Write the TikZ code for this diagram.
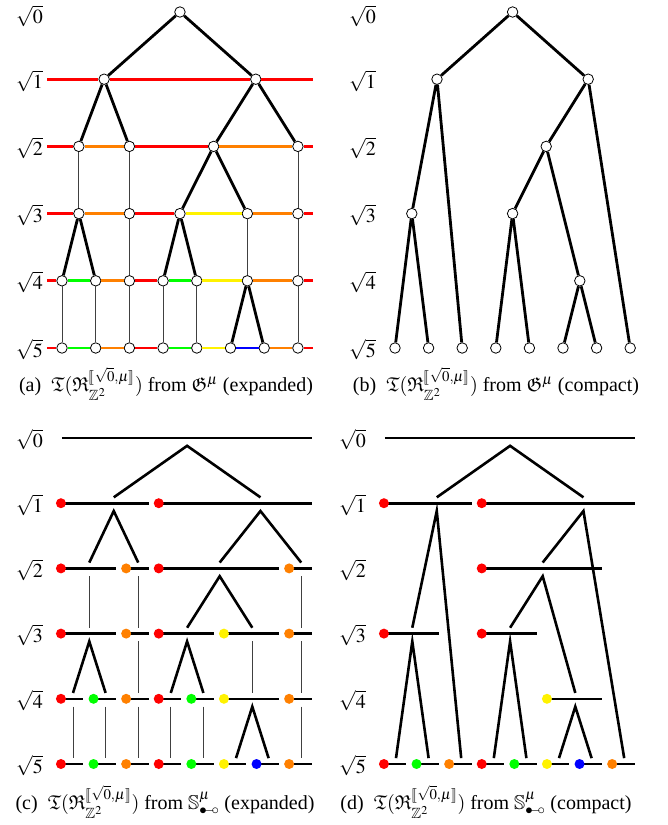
\documentclass[tikz,border=0pt]{standalone}
\usepackage{mathptmx}
\usepackage{amssymb}
\usepackage{stmaryrd}
\usepackage[no-math]{fontspec}
\setmainfont{Liberation Serif}

\newcommand{\treeof}{\mathfrak{T}(\mathfrak{R}^{\llbracket\sqrt{0},\mu\rrbracket}_{\mathbb{Z}^2})}
\newcommand{\linkdot}{{\bullet\mkern-4mu\mathord{-}\mkern-4mu\circ}}

\tikzset{
  vtx/.style={circle, draw, fill=white, line width=0.8pt, inner sep=0pt, minimum size=10.5pt},
  branch/.style={line width=2.8pt},
  chain/.style={line width=0.8pt, black!75},
  band/.style={line width=2.8pt},
  lvbar/.style={line width=2.6pt},
  limb/.style={line width=2.6pt},
  bead/.style={circle, fill=#1, inner sep=0pt, minimum size=10pt},
  lvl/.style={anchor=west, inner sep=0pt},
}

\begin{document}
\begin{tikzpicture}[x=1pt, y=-1pt, font=\fontsize{20}{24}\selectfont]
  % Canvas
  \useasboundingbox (0,0) rectangle (667,825);

  % Bar of one interval node: level, first leaf, last leaf, colour, name
  \def\seg#1#2#3#4#5{\draw[lvbar] ({#2-0.37},#1) -- ({#3+0.32},#1);
    \node[bead=#4] (#5) at ({#2-0.37},#1) {};}

  % Level labels
  \node[lvl] (la0) at (16,16) {$\sqrt{0}$};
  \node[lvl] (la1) at (16,81) {$\sqrt{1}$};
  \node[lvl] (la2) at (16,148) {$\sqrt{2}$};
  \node[lvl] (la3) at (16,215) {$\sqrt{3}$};
  \node[lvl] (la4) at (16,282) {$\sqrt{4}$};
  \node[lvl] (la5) at (16,349.5) {$\sqrt{5}$};
  \node[lvl] (lb0) at (349,16) {$\sqrt{0}$};
  \node[lvl] (lb1) at (349,81) {$\sqrt{1}$};
  \node[lvl] (lb2) at (349,148) {$\sqrt{2}$};
  \node[lvl] (lb3) at (349,215) {$\sqrt{3}$};
  \node[lvl] (lb4) at (349,282) {$\sqrt{4}$};
  \node[lvl] (lb5) at (349,349.5) {$\sqrt{5}$};
  \node[lvl] (lc0) at (16,439.5) {$\sqrt{0}$};
  \node[lvl] (lc1) at (16,505) {$\sqrt{1}$};
  \node[lvl] (lc2) at (16,570) {$\sqrt{2}$};
  \node[lvl] (lc3) at (16,635) {$\sqrt{3}$};
  \node[lvl] (lc4) at (16,700.5) {$\sqrt{4}$};
  \node[lvl] (lc5) at (16,765.5) {$\sqrt{5}$};
  \node[lvl] (ld0) at (339,439.5) {$\sqrt{0}$};
  \node[lvl] (ld1) at (339,505) {$\sqrt{1}$};
  \node[lvl] (ld2) at (339,570) {$\sqrt{2}$};
  \node[lvl] (ld3) at (339,635) {$\sqrt{3}$};
  \node[lvl] (ld4) at (339,700.5) {$\sqrt{4}$};
  \node[lvl] (ld5) at (339,765.5) {$\sqrt{5}$};

  % (a) expanded tree
  \begin{scope}[shift={(62,12)}, x=33.7pt, y=-67.2pt]
    % Vertices
    \node[vtx] (a00) at (3.5,0) {};
    \node[vtx] (a10) at (1.25,1) {}; \node[vtx] (a11) at (5.75,1) {};
    \node[vtx] (a20) at (0.5,2) {}; \node[vtx] (a21) at (2,2) {};
    \node[vtx] (a22) at (4.5,2) {}; \node[vtx] (a23) at (7,2) {};
    \node[vtx] (a30) at (0.5,3) {}; \node[vtx] (a31) at (2,3) {};
    \node[vtx] (a32) at (3.5,3) {}; \node[vtx] (a33) at (5.5,3) {};
    \node[vtx] (a34) at (7,3) {};
    \node[vtx] (a40) at (0,4) {}; \node[vtx] (a41) at (1,4) {};
    \node[vtx] (a42) at (2,4) {}; \node[vtx] (a43) at (3,4) {};
    \node[vtx] (a44) at (4,4) {}; \node[vtx] (a45) at (5.5,4) {};
    \node[vtx] (a46) at (7,4) {};
    \node[vtx] (a50) at (0,5) {}; \node[vtx] (a51) at (1,5) {};
    \node[vtx] (a52) at (2,5) {}; \node[vtx] (a53) at (3,5) {};
    \node[vtx] (a54) at (4,5) {}; \node[vtx] (a55) at (5,5) {};
    \node[vtx] (a56) at (6,5) {}; \node[vtx] (a57) at (7,5) {};

    % Ends of the level bands
    \coordinate (aw1) at (-0.445,1); \coordinate (ae1) at (7.445,1);
    \coordinate (aw2) at (-0.445,2); \coordinate (ae2) at (7.445,2);
    \coordinate (aw3) at (-0.445,3); \coordinate (ae3) at (7.445,3);
    \coordinate (aw4) at (-0.445,4); \coordinate (ae4) at (7.445,4);
    \coordinate (aw5) at (-0.445,5); \coordinate (ae5) at (7.445,5);

    % Level bands
    \draw[band, red] (aw1) -- (a10) -- (a11) -- (ae1);
    \draw[band, red] (aw2) -- (a20);
    \draw[band, orange] (a20) -- (a21);
    \draw[band, red] (a21) -- (a22);
    \draw[band, orange] (a22) -- (a23);
    \draw[band, red] (a23) -- (ae2);
    \draw[band, red] (aw3) -- (a30);
    \draw[band, orange] (a30) -- (a31);
    \draw[band, red] (a31) -- (a32);
    \draw[band, yellow] (a32) -- (a33);
    \draw[band, orange] (a33) -- (a34);
    \draw[band, red] (a34) -- (ae3);
    \draw[band, red] (aw4) -- (a40);
    \draw[band, green] (a40) -- (a41);
    \draw[band, orange] (a41) -- (a42);
    \draw[band, red] (a42) -- (a43);
    \draw[band, green] (a43) -- (a44);
    \draw[band, yellow] (a44) -- (a45);
    \draw[band, orange] (a45) -- (a46);
    \draw[band, red] (a46) -- (ae4);
    \draw[band, red] (aw5) -- (a50);
    \draw[band, green] (a50) -- (a51);
    \draw[band, orange] (a51) -- (a52);
    \draw[band, red] (a52) -- (a53);
    \draw[band, green] (a53) -- (a54);
    \draw[band, yellow] (a54) -- (a55);
    \draw[band, blue] (a55) -- (a56);
    \draw[band, orange] (a56) -- (a57);
    \draw[band, red] (a57) -- (ae5);

    % Single-child links
    \draw[chain] (a20) -- (a30); \draw[chain] (a21) -- (a31);
    \draw[chain] (a23) -- (a34); \draw[chain] (a31) -- (a42);
    \draw[chain] (a33) -- (a45); \draw[chain] (a34) -- (a46);
    \draw[chain] (a40) -- (a50); \draw[chain] (a41) -- (a51);
    \draw[chain] (a42) -- (a52); \draw[chain] (a43) -- (a53);
    \draw[chain] (a44) -- (a54); \draw[chain] (a46) -- (a57);

    % Branching links
    \draw[branch] (a10) -- (a00) -- (a11);
    \draw[branch] (a20) -- (a10) -- (a21);
    \draw[branch] (a22) -- (a11) -- (a23);
    \draw[branch] (a32) -- (a22) -- (a33);
    \draw[branch] (a40) -- (a30) -- (a41);
    \draw[branch] (a43) -- (a32) -- (a44);
    \draw[branch] (a55) -- (a45) -- (a56);
  \end{scope}

  % (b) compact tree
  \begin{scope}[shift={(395,12)}, x=33.6pt, y=-67.2pt]
    % Vertices
    \node[vtx] (b00) at (3.5,0) {};
    \node[vtx] (b10) at (1.25,1) {}; \node[vtx] (b11) at (5.75,1) {};
    \node[vtx] (b22) at (4.5,2) {};
    \node[vtx] (b30) at (0.5,3) {}; \node[vtx] (b32) at (3.5,3) {};
    \node[vtx] (b45) at (5.5,4) {};
    \node[vtx] (b50) at (0,5) {}; \node[vtx] (b51) at (1,5) {};
    \node[vtx] (b52) at (2,5) {}; \node[vtx] (b53) at (3,5) {};
    \node[vtx] (b54) at (4,5) {}; \node[vtx] (b55) at (5,5) {};
    \node[vtx] (b56) at (6,5) {}; \node[vtx] (b57) at (7,5) {};

    % Links
    \draw[branch] (b10) -- (b00) -- (b11);
    \draw[branch] (b30) -- (b10) -- (b52);
    \draw[branch] (b22) -- (b11) -- (b57);
    \draw[branch] (b32) -- (b22) -- (b45);
    \draw[branch] (b50) -- (b30) -- (b51);
    \draw[branch] (b53) -- (b32) -- (b54);
    \draw[branch] (b55) -- (b45) -- (b56);
  \end{scope}

  % (c) expanded intervals
  \begin{scope}[shift={(73,438)}, x=32.6pt, y=-65.2pt]
    % Level bars
    \draw[lvbar] (-0.34,0) -- (7.33,0);
    \seg{1}{0}{2}{red}{c10} \seg{1}{3}{7}{red}{c11}
    \seg{2}{0}{1}{red}{c20} \seg{2}{2}{2}{orange}{c21}
    \seg{2}{3}{6}{red}{c22} \seg{2}{7}{7}{orange}{c23}
    \seg{3}{0}{1}{red}{c30} \seg{3}{2}{2}{orange}{c31}
    \seg{3}{3}{4}{red}{c32} \seg{3}{5}{6}{yellow}{c33}
    \seg{3}{7}{7}{orange}{c34}
    \seg{4}{0}{0}{red}{c40} \seg{4}{1}{1}{green}{c41}
    \seg{4}{2}{2}{orange}{c42} \seg{4}{3}{3}{red}{c43}
    \seg{4}{4}{4}{green}{c44} \seg{4}{5}{6}{yellow}{c45}
    \seg{4}{7}{7}{orange}{c46}
    \seg{5}{0}{0}{red}{c50} \seg{5}{1}{1}{green}{c51}
    \seg{5}{2}{2}{orange}{c52} \seg{5}{3}{3}{red}{c53}
    \seg{5}{4}{4}{green}{c54} \seg{5}{5}{5}{yellow}{c55}
    \seg{5}{6}{6}{blue}{c56} \seg{5}{7}{7}{orange}{c57}

    % Forks
    \draw[limb] (1.25,0.91) -- (3.5,0.12) -- (5.75,0.91);
    \draw[limb] (0.5,1.91) -- (1.25,1.12) -- (2,1.91);
    \draw[limb] (4.5,1.91) -- (5.75,1.12) -- (7,1.91);
    \draw[limb] (3.5,2.91) -- (4.5,2.12) -- (5.5,2.91);
    \draw[limb] (0,3.91) -- (0.5,3.12) -- (1,3.91);
    \draw[limb] (3,3.91) -- (3.5,3.12) -- (4,3.91);
    \draw[limb] (5,4.91) -- (5.5,4.12) -- (6,4.91);

    % Single-child links
    \draw[chain] (0.5,2.12) -- (0.5,2.91); \draw[chain] (2,2.12) -- (2,2.91);
    \draw[chain] (7,2.12) -- (7,2.91);
    \draw[chain] (2,3.12) -- (2,3.91); \draw[chain] (5.5,3.12) -- (5.5,3.91);
    \draw[chain] (7,3.12) -- (7,3.91);
    \draw[chain] (0,4.12) -- (0,4.91); \draw[chain] (1,4.12) -- (1,4.91);
    \draw[chain] (2,4.12) -- (2,4.91); \draw[chain] (3,4.12) -- (3,4.91);
    \draw[chain] (4,4.12) -- (4,4.91); \draw[chain] (7,4.12) -- (7,4.91);
  \end{scope}

  % (d) compact intervals
  \begin{scope}[shift={(396,438)}, x=32.6pt, y=-65.2pt]
    % Level bars
    \draw[lvbar] (-0.34,0) -- (7.33,0);
    \seg{1}{0}{2}{red}{d10} \seg{1}{3}{7}{red}{d11}
    \seg{2}{3}{6}{red}{d22}
    \seg{3}{0}{1}{red}{d30} \seg{3}{3}{4}{red}{d32}
    \seg{4}{5}{6}{yellow}{d45}
    \seg{5}{0}{0}{red}{d50} \seg{5}{1}{1}{green}{d51}
    \seg{5}{2}{2}{orange}{d52} \seg{5}{3}{3}{red}{d53}
    \seg{5}{4}{4}{green}{d54} \seg{5}{5}{5}{yellow}{d55}
    \seg{5}{6}{6}{blue}{d56} \seg{5}{7}{7}{orange}{d57}

    % Forks
    \draw[limb] (1.25,0.91) -- (3.5,0.12) -- (5.75,0.91);
    \draw[limb] (0.5,2.91) -- (1.25,1.12) -- (2,4.91);
    \draw[limb] (4.5,1.91) -- (5.75,1.12) -- (7,4.91);
    \draw[limb] (3.5,2.91) -- (4.5,2.12) -- (5.5,3.91);
    \draw[limb] (0,4.91) -- (0.5,3.12) -- (1,4.91);
    \draw[limb] (3,4.91) -- (3.5,3.12) -- (4,4.91);
    \draw[limb] (5,4.91) -- (5.5,4.12) -- (6,4.91);
  \end{scope}

  % Captions
  \node (capa) at (166,384) {(a)\enspace$\treeof$ from $\mathfrak{G}^\mu$ (expanded)};
  \node (capb) at (496,384) {(b)\enspace$\treeof$ from $\mathfrak{G}^\mu$ (compact)};
  \node (capc) at (165,802) {(c)\enspace$\treeof$ from $\mathbb{S}^\mu_{\linkdot}$ (expanded)};
  \node (capd) at (486,802) {(d)\enspace$\treeof$ from $\mathbb{S}^\mu_{\linkdot}$ (compact)};
\end{tikzpicture}
\end{document}
